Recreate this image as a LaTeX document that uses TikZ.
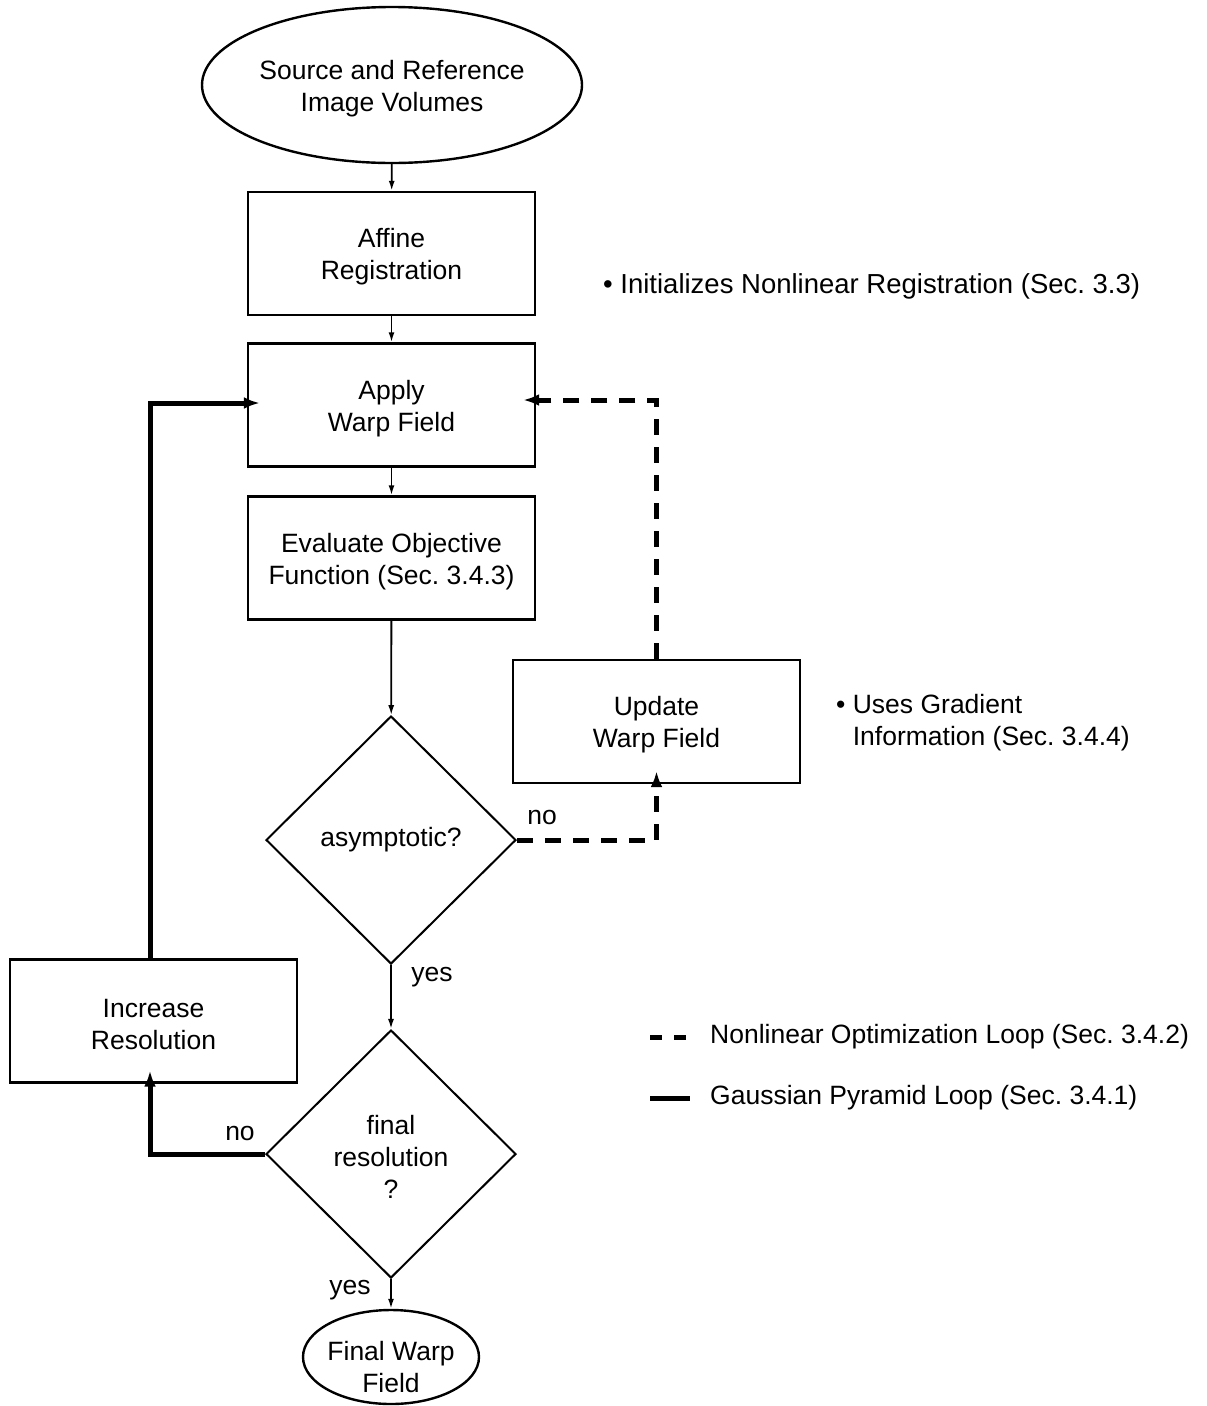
\documentclass[tikz,border=0pt]{standalone}
\usepackage{fontspec}
\setmainfont{Liberation Sans}
\usetikzlibrary{shapes.geometric,arrows.meta}
\frenchspacing
\newcommand{\tstrut}{\rule{0pt}{25.5pt}}
\begin{document}
\begin{tikzpicture}[x=1pt,y=-1pt,
  every node/.style={font=\fontsize{26.5}{32}\selectfont, align=center, inner sep=0pt},
  procbox/.style={draw, line width=2.4pt, minimum width=287pt, minimum height=123pt},
  termnode/.style={draw, ellipse, line width=2.4pt},
  decision/.style={draw, diamond, line width=2pt, minimum width=250pt, minimum height=248pt},
  thinarrow/.style={line width=1.8pt, -{Latex[length=10pt,width=6pt]}},
  thickarrow/.style={line width=5pt, -{Latex[length=16pt,width=12pt]}, shorten >=-13pt},
  dasharrow/.style={line width=5pt, dash pattern=on 16pt off 12pt, -{Latex[length=16pt,width=12pt]}, shorten >=-13pt},
  legdash/.style={line width=5pt, dash pattern=on 12pt off 12pt},
  legsolid/.style={line width=5pt}
]
\useasboundingbox (0,0) rectangle (1207,1406);

\node[termnode, minimum width=380pt, minimum height=156pt] (src) at (392,85) {\tstrut Source and Reference\\Image Volumes};
\node[procbox] (affine) at (391.5,253.5) {\tstrut Affine\\Registration};
\node[procbox] (apply) at (391.5,405) {\tstrut Apply\\Warp Field};
\node[procbox] (eval) at (391.5,558) {\tstrut Evaluate Objective\\Function (Sec. 3.4.3)};
\node[decision] (asym) at (391,840) {asymptotic?};
\node[procbox] (update) at (656.5,721.5) {\tstrut Update\\Warp Field};
\node[procbox] (incr) at (153.5,1021) {\tstrut Increase\\Resolution};
\node[decision] (fin) at (391,1154) {\tstrut final\\resolution\\?};
\node[termnode, minimum width=176pt, minimum height=94pt, inner xsep=-3pt, inner ysep=-12pt] (out) at (391,1357) {\rule{0pt}{39.5pt}Final Warp\\Field};

\draw[thinarrow] (src) -- (affine);
\draw[thinarrow] (affine) -- (apply);
\draw[thinarrow] (apply) -- (eval);
\draw[thinarrow] (eval) -- (asym);
\draw[thinarrow] (asym) -- (fin);
\draw[thinarrow] (fin) -- (out);

\draw[dasharrow] (asym.east) -| (update.south);
\draw[dasharrow] (update.north) |- ([yshift=5pt]apply.east);
\draw[thickarrow] (fin.west) -| ([xshift=-3.5pt]incr.south);
\draw[thickarrow] ([xshift=-3.5pt]incr.north) |- ([yshift=2pt]apply.west);

\node (no1) at (542,817) {no};
\node (yes1) at (432,977) {yes};
\node (no2) at (240,1133) {no};
\node (yes2) at (350,1290) {yes};

\node[anchor=west, font=\fontsize{27.5}{32}\selectfont] (note1) at (603,286) {\textbullet\ Initializes Nonlinear Registration (Sec. 3.3)};
\node[anchor=north west, align=left] (note2) at (836,694) {\textbullet\ Uses Gradient\\\hphantom{\textbullet\ }Information (Sec. 3.4.4)};

\coordinate (l1a) at (650,1037);
\coordinate (l1b) at (688,1037);
\coordinate (l2a) at (650,1098);
\coordinate (l2b) at (690,1098);
\draw[legdash] (l1a) -- (l1b);
\draw[legsolid] (l2a) -- (l2b);
\node[anchor=west] (leg1) at (710,1037) {Nonlinear Optimization Loop (Sec. 3.4.2)};
\node[anchor=west] (leg2) at (710,1098) {Gaussian Pyramid Loop (Sec. 3.4.1)};
\end{tikzpicture}
\end{document}
